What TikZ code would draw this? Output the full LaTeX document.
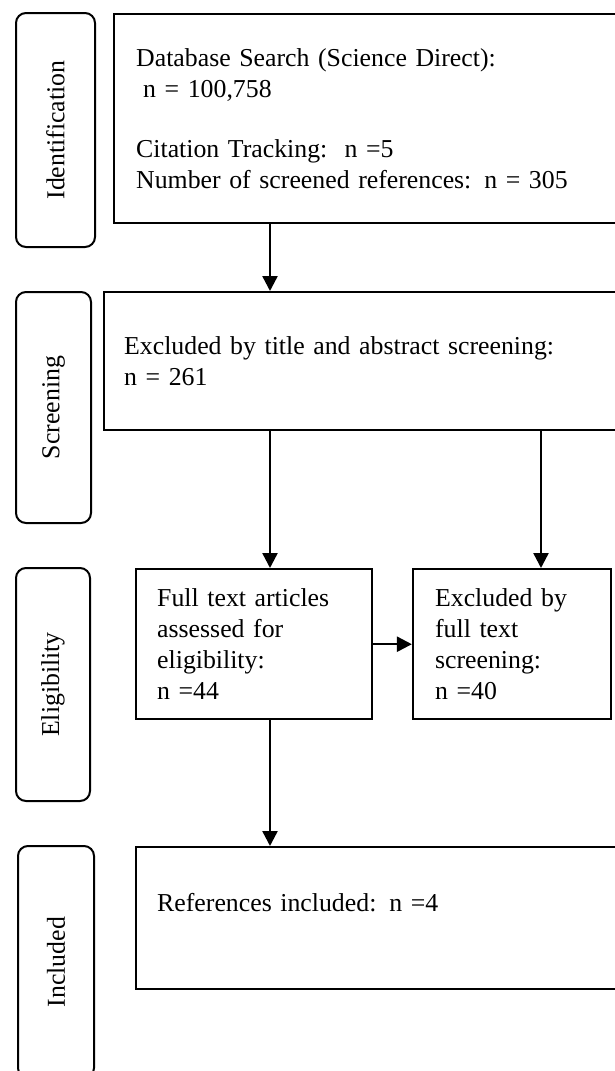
\documentclass[tikz,border=0pt]{standalone}
\usepackage{fontspec}
\setmainfont{Liberation Serif}
\usetikzlibrary{arrows.meta, positioning}
\tikzstyle{stage} = [rectangle, rounded corners=5pt, draw=black, line width=1pt, rotate=90, inner sep=0pt]
\tikzstyle{box} = [rectangle, draw=black, line width=1.2pt, align=left, anchor=north west, inner ysep=0pt]
\tikzstyle{arrow} = [line width=1.2pt, -{Triangle[length=7.5pt, width=7.5pt]}]

\begin{document}
\begin{tikzpicture}[x=0.5pt, y=-0.5pt, font=\fontsize{12.9pt}{15.5pt}\selectfont]
\useasboundingbox (0,0) rectangle (615,1071);
\clip (0,0) rectangle (615,1071);

% Stages
\node (ident) [stage, minimum width=117pt, minimum height=39.5pt] at (55.5,130) {Identification};
\node (screen) [stage, minimum width=115.5pt, minimum height=37.5pt] at (53.5,407.5) {Screening};
\node (elig) [stage, minimum width=116.5pt, minimum height=37pt] at (53,684.5) {Eligibility};
\node (incl) [stage, minimum width=116pt, minimum height=38pt] at (56,962) {Included};

% Records
\node (search) [box, minimum width=263.5pt, minimum height=104.5pt, inner xsep=11pt, text width=241.5pt] at (113,13) {Database Search (Science Direct):\\\hspace*{3.5pt}n = 100,758\\[14.5pt]Citation Tracking:\ \ n =5\\Number of screened references: n = 305};
\node (title) [box, minimum width=268.5pt, minimum height=69pt, inner xsep=10pt, text width=248.5pt] at (103,291) {Excluded by title and abstract screening:\\n = 261};
\node (full) [box, minimum width=118pt, minimum height=75pt, inner xsep=10.75pt, text width=96.5pt] at (134.5,568) {Full text articles\\assessed for\\eligibility:\\n =44};
\node (fullex) [box, right=19.5pt of full, minimum width=99pt, minimum height=75pt, inner xsep=11pt, text width=77pt] {Excluded by\\full text\\screening:\\n =40};
\node (refs) [box, minimum width=252.75pt, minimum height=71pt, inner xsep=10.75pt, text width=231.25pt, text height=9pt, text depth=16pt] at (134.5,846) {References included: n =4};

% Arrows
\coordinate (colA) at (270,0);
\coordinate (colB) at (541,0);
\draw [arrow] (search.south -| colA) -- (title.north -| colA);
\draw [arrow] (title.south -| colA) -- (full.north -| colA);
\draw [arrow] (title.south -| colB) -- (fullex.north -| colB);
\draw [arrow] (full.east) -- (fullex.west);
\draw [arrow] (full.south -| colA) -- (refs.north -| colA);

\end{tikzpicture}
\end{document}
